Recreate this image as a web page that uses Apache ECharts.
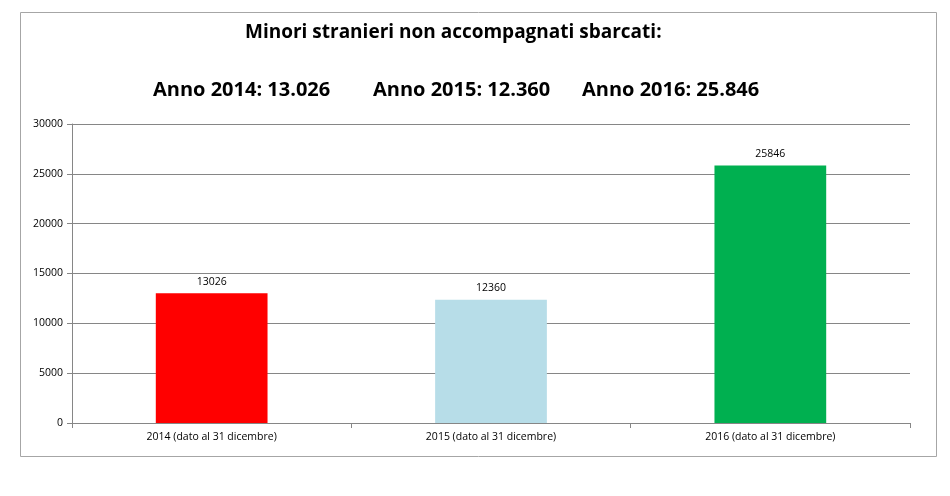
<!DOCTYPE html>
<html><head><meta charset="utf-8">
<script src="https://cdn.jsdelivr.net/npm/echarts@6/dist/echarts.min.js"></script>
<style>html,body{margin:0;padding:0;background:#fff}#c{width:950px;height:496px}</style>
</head><body><div id="c"></div>
<script>
const categories = ['2014 (dato al 31 dicembre)', '2015 (dato al 31 dicembre)', '2016 (dato al 31 dicembre)'];
const values = [13026, 12360, 25846];
const barColors = ['#ff0000', '#b7dde8', '#00b050'];
const yTicks = { min: 0, max: 30000, interval: 5000 };
const titleMain = 'Minori stranieri non accompagnati sbarcati:';
const titleYears = ['Anno 2014: 13.026', 'Anno 2015: 12.360', 'Anno 2016: 25.846'];

const chart = echarts.init(document.getElementById('c'));
const font = 'Open Sans, Noto Sans, sans-serif';
chart.setOption({
  animation: false,
  graphic: [{ type: 'rect', shape: { x: 20.5, y: 12.5, width: 916, height: 444 }, style: { fill: 'none', stroke: '#a6a6a6', lineWidth: 1 } }],
  title: [
    { text: titleMain, left: 240, top: 18, textStyle: { fontFamily: font, fontWeight: 'bold', fontSize: 19, color: '#000' } },
    { text: titleYears[0], left: 148, top: 75, textStyle: { fontFamily: font, fontWeight: 'bold', fontSize: 20, color: '#000' } },
    { text: titleYears[1], left: 368, top: 75, textStyle: { fontFamily: font, fontWeight: 'bold', fontSize: 20, color: '#000' } },
    { text: titleYears[2], left: 577, top: 75, textStyle: { fontFamily: font, fontWeight: 'bold', fontSize: 20, color: '#000' } }
  ],
  grid: { left: 72, right: 40, top: 124, bottom: 73, containLabel: false },
  xAxis: {
    type: 'category', data: categories,
    axisLine: { lineStyle: { color: '#868686' } },
    axisTick: { show: true, length: 5, lineStyle: { color: '#868686' } },
    axisLabel: { color: '#000', fontFamily: font, fontSize: 10.5, margin: 9 }
  },
  yAxis: {
    type: 'value', min: yTicks.min, max: yTicks.max, interval: yTicks.interval,
    axisLine: { show: true, lineStyle: { color: '#868686' } },
    axisTick: { show: true, length: 5, lineStyle: { color: '#868686' } },
    splitLine: { lineStyle: { color: '#868686' } },
    axisLabel: { color: '#000', fontFamily: font, fontSize: 10.5, margin: 9, formatter: v => String(v) }
  },
  series: [{
    type: 'bar', barWidth: '40%',
    data: values.map((v, i) => ({ value: v, itemStyle: { color: barColors[i] } })),
    label: { show: true, position: 'top', color: '#000', fontFamily: font, fontSize: 10.5, distance: 6 }
  }]
});
</script></body></html>
